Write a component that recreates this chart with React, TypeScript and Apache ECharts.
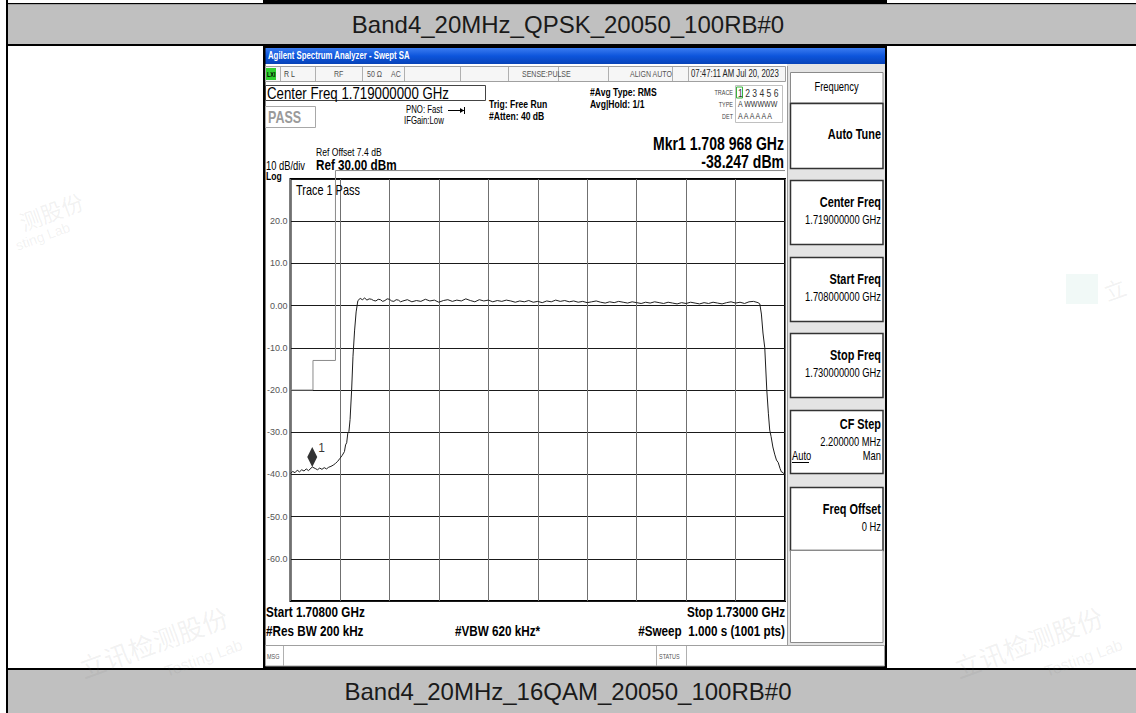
import React, { useEffect, useRef } from "react";
import * as echarts from "echarts";

const FF = '"Liberation Sans", Arial, Helvetica, sans-serif';
const NARROW = '"Liberation Sans Narrow", "Liberation Sans", Arial, sans-serif';
const CJK = '"Noto Sans CJK SC", sans-serif';
const SX = 0.78;

const topCaption = "Band4_20MHz_QPSK_20050_100RB#0";
const bottomCaption = "Band4_20MHz_16QAM_20050_100RB#0";

const startFreqMHz = 1708;
const stopFreqMHz = 1730;
const xDivMin = 0;
const xDivMax = 10;

const yTicks = [30, 20, 10, 0, -10, -20, -30, -40, -50, -60, -70];
const yTickLabels = ["", "20.0", "10.0", "0.00", "-10.0", "-20.0", "-30.0", "-40.0", "-50.0", "-60.0", ""];

// trace 1 : [frequency MHz, level dBm]
const trace: [number, number][] = [
  [1708.0, -39.8], [1708.1, -39.3], [1708.2, -39.6], [1708.3, -39.0], [1708.4, -39.4],
  [1708.5, -38.9], [1708.6, -39.2], [1708.7, -38.7], [1708.8, -39.1], [1708.968, -38.25],
  [1709.1, -38.6], [1709.2, -38.9], [1709.3, -38.5], [1709.4, -38.8], [1709.5, -38.4],
  [1709.6, -38.7], [1709.7, -38.3], [1709.8, -38.1], [1709.9, -37.8], [1710.0, -37.4],
  [1710.1, -36.9], [1710.2, -36.2], [1710.3, -35.5], [1710.4, -34.6], [1710.45, -33.0],
  [1710.5, -32.5], [1710.55, -30.2], [1710.6, -29.8], [1710.65, -27.0], [1710.72, -20.0],
  [1710.78, -12.0], [1710.85, -6.0], [1710.92, -1.5], [1710.98, 0.6],
  [1711.0, 1.2], [1711.1, 1.7], [1711.2, 1.4], [1711.3, 1.8], [1711.4, 1.3], [1711.5, 1.6], [1711.6, 1.5], [1711.7, 1.2], [1711.8, 1.1], [1711.9, 1.5],
  [1712.0, 1.4], [1712.1, 1.0], [1712.2, 1.2], [1712.3, 1.6], [1712.4, 1.5], [1712.5, 1.1], [1712.6, 1.0], [1712.7, 1.4], [1712.8, 1.3], [1712.9, 0.9],
  [1713.0, 1.1], [1713.2, 1.4], [1713.4, 0.9], [1713.6, 1.2], [1713.8, 1.0],
  [1714.0, 1.5], [1714.2, 1.1], [1714.4, 1.3], [1714.6, 0.8], [1714.8, 1.2],
  [1715.0, 1.4], [1715.2, 1.0], [1715.4, 1.3], [1715.6, 1.1], [1715.8, 1.6],
  [1716.0, 1.2], [1716.2, 0.9], [1716.4, 1.4], [1716.6, 1.1], [1716.8, 1.3],
  [1717.0, 0.9], [1717.2, 1.2], [1717.4, 1.0], [1717.6, 1.3], [1717.8, 1.1],
  [1718.0, 0.8], [1718.2, 1.1], [1718.4, 0.9], [1718.6, 1.2], [1718.8, 0.8],
  [1719.0, 1.0], [1719.2, 0.7], [1719.4, 1.1], [1719.6, 0.9], [1719.8, 1.3],
  [1720.0, 1.0], [1720.2, 1.2], [1720.4, 0.9], [1720.6, 1.1], [1720.8, 0.8],
  [1721.0, 1.0], [1721.2, 0.7], [1721.4, 0.9], [1721.6, 1.1], [1721.8, 0.8],
  [1722.0, 0.6], [1722.2, 0.9], [1722.4, 0.7], [1722.6, 1.0], [1722.8, 0.8],
  [1723.0, 0.6], [1723.2, 0.9], [1723.4, 0.7], [1723.6, 0.5], [1723.8, 0.8],
  [1724.0, 0.6], [1724.2, 0.9], [1724.4, 0.7], [1724.6, 0.5], [1724.8, 0.8],
  [1725.0, 0.6], [1725.2, 0.4], [1725.4, 0.7], [1725.6, 0.5], [1725.8, 0.8],
  [1726.0, 0.6], [1726.2, 0.4], [1726.4, 0.7], [1726.6, 0.5], [1726.8, 0.8],
  [1727.0, 0.6], [1727.2, 0.4], [1727.4, 0.7], [1727.6, 0.9], [1727.8, 0.6],
  [1728.0, 0.8], [1728.2, 0.5], [1728.4, 0.9], [1728.6, 1.0], [1728.8, 0.7],
  [1728.88, 0.4], [1728.95, -2.0], [1729.02, -6.5], [1729.1, -10.0], [1729.19, -20.0],
  [1729.26, -25.5], [1729.32, -29.5], [1729.38, -31.0], [1729.46, -33.5], [1729.54, -35.2],
  [1729.62, -36.6], [1729.7, -37.2], [1729.78, -38.6], [1729.84, -39.4], [1729.92, -39.6],
  [1730.0, -40.1],
];

// limit line (mask) : [frequency MHz, level dBm]
const limitLine: [number, number][] = [
  [1708, -20], [1709, -20], [1709, -13], [1710, -13], [1710, 32], [1730, 32],
];

const marker1: [number, number] = [1708.968, -38.247];

const softKeys = [
  { y0: 103, y1: 168, title: "Auto Tune", ty: 135, lines: [] as string[] },
  { y0: 180, y1: 244, title: "Center Freq", ty: 203, lines: ["1.719000000 GHz"] },
  { y0: 257, y1: 321, title: "Start Freq", ty: 280, lines: ["1.708000000 GHz"] },
  { y0: 333, y1: 397, title: "Stop Freq", ty: 356, lines: ["1.730000000 GHz"] },
  { y0: 410, y1: 473, title: "CF Step", ty: 425, lines: ["2.200000 MHz"] },
  { y0: 487, y1: 550, title: "Freq Offset", ty: 510, lines: ["0 Hz"] },
];

type TO = { bold?: boolean; align?: string; color?: string; sx?: number; z?: number; family?: string; rot?: number };
function txt(x: number, y: number, text: string, size: number, o: TO = {}) {
  return {
    type: "text",
    x,
    y,
    scaleX: o.sx ?? 1,
    rotation: o.rot ?? 0,
    z: o.z ?? 30,
    silent: true,
    style: {
      text,
      font: `${o.bold ? "bold " : ""}${size}px ${o.family ?? FF}`,
      fill: o.color ?? "#000",
      textAlign: o.align ?? "left",
      textVerticalAlign: "middle",
    },
  };
}
function rect(x: number, y: number, w: number, h: number, fill: any, stroke?: string, lw = 1, z = 1) {
  return {
    type: "rect",
    z,
    silent: true,
    shape: { x, y, width: w, height: h },
    style: { fill, stroke: stroke ?? null, lineWidth: stroke ? lw : 0 },
  };
}
function ln(x1: number, y1: number, x2: number, y2: number, stroke: string, lw = 1, z = 3) {
  return { type: "line", z, silent: true, shape: { x1, y1, x2, y2 }, style: { stroke, lineWidth: lw } };
}

function buildGraphic() {
  const els: any[] = [];
  // document table
  els.push(rect(263, 0, 624, 3, "#000", undefined, 0, -10));
  els.push(rect(7, 3, 1129, 1.5, "#000", undefined, 0, -10));
  els.push(rect(8, 4.5, 1128, 39.5, "#c0c0c0", undefined, 0, -10));
  els.push(rect(7, 44, 1129, 2, "#000", undefined, 0, -10));
  els.push(rect(7, 668, 1129, 2, "#000", undefined, 0, -10));
  els.push(rect(8, 670, 1128, 43, "#c0c0c0", undefined, 0, -10));
  els.push(rect(6, 0, 2, 713, "#000", undefined, 0, -9));
  els.push(txt(568, 24, topCaption, 24, { align: "center", color: "#1a1a1a", sx: 1.0 }));
  els.push(txt(568, 691, bottomCaption, 24, { align: "center", color: "#1a1a1a", sx: 1.0 }));

  // watermarks
  const wm = "rgba(120,120,120,0.10)";
  els.push(txt(20, 222, "测股份", 22, { family: CJK, color: wm, rot: 0.35, z: -8 }));
  els.push(txt(16, 246, "sting Lab", 14, { color: wm, rot: 0.35, z: -8 }));
  els.push(txt(80, 668, "立讯检测股份", 26, { family: CJK, color: wm, rot: 0.35, z: -8 }));
  els.push(txt(165, 672, "Testing Lab", 16, { color: wm, rot: 0.35, z: -8 }));
  els.push(txt(955, 668, "立讯检测股份", 26, { family: CJK, color: wm, rot: 0.35, z: -8 }));
  els.push(txt(1045, 672, "Testing Lab", 16, { color: wm, rot: 0.35, z: -8 }));
  els.push(rect(1066, 274, 32, 30, "rgba(60,170,140,0.07)", undefined, 0, -8));
  els.push(txt(1104, 292, "立", 22, { family: CJK, color: wm, rot: 0.35, z: -8 }));

  // analyzer window
  els.push(rect(263, 46, 624, 622, "#000", undefined, 0, -6));
  els.push(
    rect(
      265.5,
      48,
      619.5,
      16,
      new echarts.graphic.LinearGradient(0, 0, 0, 1, [
        { offset: 0, color: "#3b7cf0" },
        { offset: 0.5, color: "#0d55dc" },
        { offset: 1, color: "#0843b8" },
      ]),
      undefined,
      0,
      -5
    )
  );
  els.push(txt(268, 56, "Agilent Spectrum Analyzer - Swept SA", 10, { color: "#fff", sx: SX, bold: true }));
  els.push(rect(265.5, 64, 619.5, 601, "#fff", undefined, 0, -5));

  // status row
  els.push(rect(265.5, 66.5, 520, 15, "#f6f6f6", "#a0a0a0", 1, -4));
  els.push(rect(266, 68, 10, 12, "#2fd12f", undefined, 0, 2));
  els.push(txt(267, 74, "LXI", 7, { bold: true, sx: SX }));
  [280, 315, 362, 404, 460, 508, 558, 608, 672, 688].forEach((x) => els.push(ln(x + 0.5, 67, x + 0.5, 81, "#b0b0b0", 1, 2)));
  els.push(txt(284, 74, "R L", 9, { color: "#444", sx: SX }));
  els.push(txt(334, 74, "RF", 9, { color: "#555", sx: SX }));
  els.push(txt(367, 74, "50 Ω", 9, { color: "#555", sx: SX }));
  els.push(txt(391, 74, "AC", 9, { color: "#555", sx: SX }));
  els.push(txt(522, 74, "SENSE:PULSE", 9, { color: "#555", sx: SX }));
  els.push(txt(630, 74, "ALIGN AUTO", 9, { color: "#555", sx: SX }));
  els.push(txt(691, 74, "07:47:11 AM Jul 20, 2023", 10, { color: "#222", sx: SX }));

  // center freq box & info
  els.push(rect(265.5, 85.5, 220, 15, "#fff", "#444", 1, -3));
  els.push(txt(267, 93, "Center Freq 1.719000000 GHz", 17, { sx: SX }));
  els.push(rect(265.5, 106.5, 50, 21, "#fff", "#a8a8a8", 1, -3));
  els.push(txt(268, 117, "PASS", 16, { bold: true, color: "#9a9a9a", sx: SX }));
  els.push(txt(406, 110, "PNO: Fast", 10, { sx: SX }));
  els.push(ln(448, 110.5, 464, 110.5, "#000", 1, 3));
  els.push({ type: "polygon", z: 3, silent: true, shape: { points: [[460, 108], [464, 110.5], [460, 113]] }, style: { fill: "#000" } });
  els.push(ln(464.5, 107, 464.5, 114, "#000", 1, 3));
  els.push(txt(404, 121, "IFGain:Low", 10, { sx: SX }));
  els.push(txt(489, 104, "Trig: Free Run", 11, { bold: true, sx: SX }));
  els.push(txt(489, 116, "#Atten: 40 dB", 11, { bold: true, sx: SX }));
  els.push(txt(590, 92, "#Avg Type: RMS", 11, { bold: true, sx: SX }));
  els.push(txt(590, 104, "Avg|Hold: 1/1", 11, { bold: true, sx: SX }));
  els.push(txt(733, 92, "TRACE", 7, { align: "right", color: "#444", sx: SX }));
  els.push(txt(733, 104, "TYPE", 7, { align: "right", color: "#444", sx: SX }));
  els.push(txt(733, 116, "DET", 7, { align: "right", color: "#444", sx: SX }));
  els.push(rect(735.5, 85.5, 47, 37, "#fff", "#c0c0c0", 1, -3));
  els.push(rect(736.5, 87, 6, 11, "none", "#3bb33b", 1, 2));
  els.push(txt(738, 93, "1 2 3 4 5 6", 11, { sx: SX, color: "#333" }));
  els.push(txt(738, 104, "A WWWWW", 9, { sx: SX, color: "#333" }));
  els.push(txt(738, 116, "A A A A A A", 9, { sx: SX, color: "#333" }));

  els.push(txt(784, 143, "Mkr1 1.708 968 GHz", 18, { bold: true, align: "right", sx: SX }));
  els.push(txt(784, 161, "-38.247 dBm", 18, { bold: true, align: "right", sx: SX }));
  els.push(txt(316, 152, "Ref Offset 7.4 dB", 11, { sx: SX }));
  els.push(txt(266, 166, "10 dB/div", 12, { sx: SX }));
  els.push(txt(316, 165, "Ref 30.00 dBm", 15, { bold: true, sx: SX }));
  els.push(txt(266, 176, "Log", 11, { bold: true, sx: SX }));
  els.push(txt(296, 191, "Trace 1 Pass", 14, { sx: SX }));

  els.push(txt(266, 612, "Start 1.70800 GHz", 15, { bold: true, sx: SX }));
  els.push(txt(266, 631, "#Res BW 200 kHz", 15, { bold: true, sx: SX }));
  els.push(txt(455, 631, "#VBW 620 kHz*", 15, { bold: true, sx: SX }));
  els.push(txt(785, 612, "Stop 1.73000 GHz", 15, { bold: true, align: "right", sx: SX }));
  els.push(txt(785, 631, "#Sweep  1.000 s (1001 pts)", 15, { bold: true, align: "right", sx: SX }));

  // bottom message bar
  els.push(rect(265.5, 645.5, 619, 20.5, "#fff", "#a0a0a0", 1, -3));
  els.push(ln(283.5, 646, 283.5, 666, "#b0b0b0", 1, 2));
  els.push(ln(656.5, 646, 656.5, 666, "#b0b0b0", 1, 2));
  els.push(ln(686.5, 646, 686.5, 666, "#b0b0b0", 1, 2));
  els.push(txt(267, 656, "MSG", 7, { color: "#555", sx: SX }));
  els.push(txt(659, 656, "STATUS", 7, { color: "#555", sx: SX }));

  // right soft-key panel
  els.push(rect(787, 64, 98, 581, "#e4e4e4", undefined, 0, -4));
  els.push(ln(787.5, 66, 787.5, 645, "#9a9a9a", 1, -3));
  els.push(rect(790.5, 72.5, 92.5, 30.5, "#fff", "#8a8a8a", 1, -3));
  els.push(txt(836.5, 87, "Frequency", 12, { align: "center", sx: SX }));
  softKeys.forEach((k) => {
    els.push(rect(790.5, k.y0 + 0.5, 92.5, k.y1 - k.y0, "#fff", "#333", 1.5, -3));
    els.push(txt(881, k.ty, k.title, 14, { bold: true, align: "right", sx: SX }));
    k.lines.forEach((l, i) => els.push(txt(881, k.ty + 17 + i * 15, l, 12, { align: "right", sx: SX })));
  });
  els.push(txt(792, 456, "Auto", 12, { sx: SX }));
  els.push(ln(792, 462.5, 809, 462.5, "#000", 1, 3));
  els.push(txt(881, 456, "Man", 12, { align: "right", sx: SX }));
  els.push(rect(790.5, 550.5, 92.5, 92, "#fff", "#8a8a8a", 1, -3));

  return els;
}

export default function App() {
  const ref = useRef<HTMLDivElement>(null);
  useEffect(() => {
    if (!ref.current) return;
    const chart = echarts.init(ref.current, undefined, { renderer: "svg" });
    const option: any = {
      animation: false,
      backgroundColor: "#ffffff",
      grid: {
        left: 290.5,
        top: 179,
        width: 494.5,
        height: 422,
        show: true,
        backgroundColor: "#fff",
        borderColor: "#000",
        borderWidth: 2,
      },
      xAxis: [
        {
          type: "value",
          min: xDivMin,
          max: xDivMax,
          interval: 1,
          axisLine: { show: false },
          axisTick: { show: false },
          axisLabel: { show: false },
          splitLine: { show: true, lineStyle: { color: "#707070", width: 1 } },
        },
        {
          type: "value",
          min: startFreqMHz,
          max: stopFreqMHz,
          show: false,
          splitLine: { show: false },
        },
      ],
      yAxis: {
        type: "value",
        min: -70,
        max: 30,
        interval: 10,
        axisLine: { show: false },
        axisTick: { show: false },
        splitLine: { show: true, lineStyle: { color: "#1a1a1a", width: 1 } },
        axisLabel: {
          margin: 3,
          fontSize: 9,
          fontFamily: NARROW,
          color: "#555",
          formatter: (v: number) => {
            const i = yTicks.indexOf(v);
            return i >= 0 ? yTickLabels[i] : "";
          },
        },
      },
      series: [
        {
          type: "line",
          xAxisIndex: 1,
          data: limitLine,
          symbol: "none",
          clip: false,
          silent: true,
          z: 3,
          lineStyle: { color: "#8a8a8a", width: 1 },
        },
        {
          type: "line",
          xAxisIndex: 1,
          data: trace,
          symbol: "none",
          silent: true,
          z: 4,
          lineStyle: { color: "#1e1e1e", width: 1 },
        },
        {
          type: "scatter",
          xAxisIndex: 1,
          data: [marker1],
          symbol: "diamond",
          symbolSize: [10, 20],
          symbolOffset: [0, -10],
          silent: true,
          z: 5,
          itemStyle: { color: "#000" },
          label: { show: true, formatter: "1", position: [11, -5], fontSize: 12, color: "#000", fontFamily: FF },
        },
      ],
      graphic: { elements: buildGraphic() },
    };
    chart.setOption(option);
    return () => chart.dispose();
  }, []);
  return (
    <div
      ref={ref}
      style={{ position: "fixed", left: 0, top: 0, width: 1136, height: 713, background: "#fff" }}
    />
  );
}
